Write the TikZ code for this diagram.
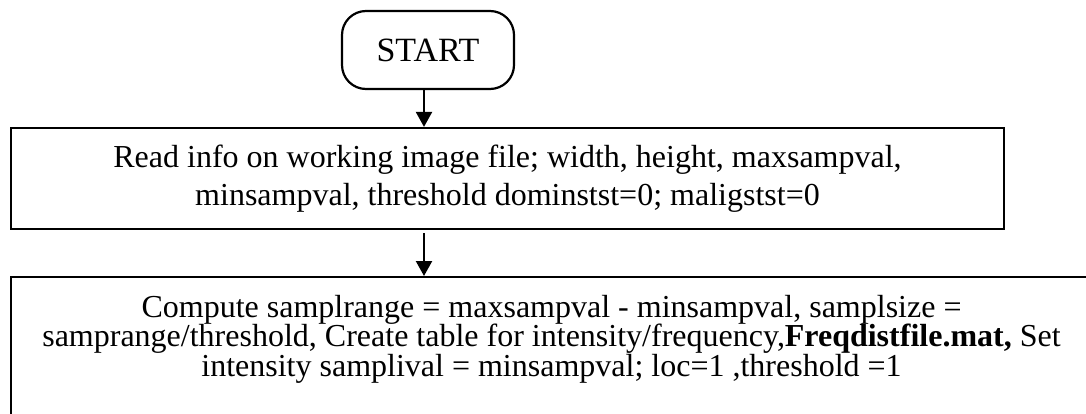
\documentclass[tikz,border=0pt]{standalone}
\usepackage{fontspec}
\setmainfont{Liberation Serif}
\usetikzlibrary{arrows.meta,calc}
\begin{document}
\begin{tikzpicture}[x=1pt,y=1pt,
  boxline/.style={draw, line width=1.1pt, inner sep=0pt},
  startbox/.style={boxline, rounded corners=12pt, minimum width=86pt, minimum height=39pt,
    font=\fontsize{17}{19}\selectfont},
  procbox/.style={boxline, align=center, font=\fontsize{16}{19}\selectfont},
  bodytext/.style={align=center, inner sep=0pt, font=\fontsize{16}{14.75}\selectfont},
  arr/.style={line width=1.1pt, -{Triangle[width=8pt,length=7.5pt]}}]
\path[use as bounding box, clip] (0,0) rectangle (543,-206.5);
\node[startbox] (start) at (214,-25) {START};
\node[procbox, minimum width=496.5pt, minimum height=50.5pt] (box2) at (253.75,-89.25)
  {Read info on working image file; width, height, maxsampval,\\
   minsampval, threshold dominstst=0; maligstst=0};
\node[boxline, minimum width=540.5pt, minimum height=80pt, anchor=north] (box3) at (275.75,-138) {};
\node[bodytext] (box3txt) at (275.75,-169.5)
  {Compute samplrange = maxsampval - minsampval, samplsize =\\
   samprange/threshold, Create table for intensity/frequency,\textbf{Freqdistfile.mat,} Set\\
   intensity samplival = minsampval; loc=1 ,threshold =1};
\coordinate (ax) at ([xshift=-2pt]start.south);
\draw[arr] (ax) -- (ax |- box2.north);
\draw[arr, shorten <=1.5pt] (box2.south -| ax) -- (box3.north -| ax);
\end{tikzpicture}
\end{document}
